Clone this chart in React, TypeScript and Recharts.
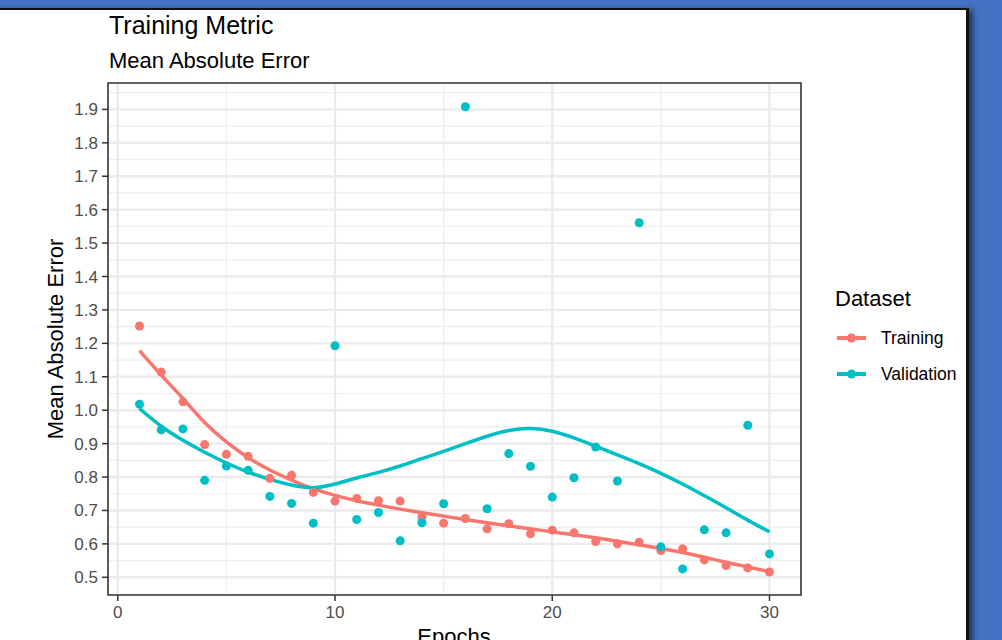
import React from "react";
import {
  CartesianGrid,
  ComposedChart,
  Line,
  ReferenceArea,
  Scatter,
  XAxis,
  YAxis,
} from "recharts";

const epochs = [
  1, 2, 3, 4, 5, 6, 7, 8, 9, 10, 11, 12, 13, 14, 15, 16, 17, 18, 19, 20, 21,
  22, 23, 24, 25, 26, 27, 28, 29, 30,
];

// observed MAE per epoch
const trainingMae = [
  1.252, 1.114, 1.025, 0.897, 0.868, 0.862, 0.796, 0.805, 0.754, 0.728, 0.736,
  0.729, 0.728, 0.681, 0.662, 0.676, 0.645, 0.66, 0.63, 0.641, 0.633, 0.607,
  0.6, 0.605, 0.58, 0.585, 0.552, 0.535, 0.528, 0.516,
];
const validationMae = [
  1.018, 0.941, 0.944, 0.79, 0.833, 0.82, 0.742, 0.721, 0.662, 1.193, 0.673,
  0.694, 0.609, 0.663, 0.72, 1.908, 0.705, 0.87, 0.832, 0.74, 0.798, 0.89,
  0.788, 1.561, 0.591, 0.525, 0.642, 0.633, 0.955, 0.57,
];

// smoothed (loess) curves
const trainingFit = [
  1.178, 1.105, 1.035, 0.963, 0.905, 0.858, 0.821, 0.791, 0.765, 0.745, 0.729,
  0.716, 0.704, 0.693, 0.683, 0.673, 0.663, 0.654, 0.645, 0.636, 0.627, 0.618,
  0.608, 0.597, 0.586, 0.574, 0.56, 0.545, 0.531, 0.517,
];
const validationFit = [
  1.005, 0.952, 0.91, 0.874, 0.842, 0.815, 0.793, 0.776, 0.768, 0.779, 0.797,
  0.814, 0.833, 0.855, 0.877, 0.9, 0.922, 0.939, 0.945, 0.937, 0.917, 0.892,
  0.866, 0.84, 0.811, 0.779, 0.744, 0.708, 0.671, 0.636,
];

const xTicks = [0, 10, 20, 30];
const xMinor = [5, 15, 25];
const yTicks = [0.5, 0.6, 0.7, 0.8, 0.9, 1.0, 1.1, 1.2, 1.3, 1.4, 1.5, 1.6, 1.7, 1.8, 1.9];
const yMinor = [0.45, 0.55, 0.65, 0.75, 0.85, 0.95, 1.05, 1.15, 1.25, 1.35, 1.45, 1.55, 1.65, 1.75, 1.85, 1.95];

const X_DOMAIN: [number, number] = [-0.45, 31.45];
const Y_DOMAIN: [number, number] = [0.447, 1.979];

const RED = "#F8766D";
const TEAL = "#00BFC4";
const FONT = '"Liberation Sans", Arial, sans-serif';

const series = [
  { name: "Training", color: RED },
  { name: "Validation", color: TEAL },
];

const rows = epochs.map((epoch, i) => ({
  epoch,
  training: trainingMae[i],
  validation: validationMae[i],
  trainingFit: trainingFit[i],
  validationFit: validationFit[i],
}));

const tickStyle = { fill: "#4D4D4D", fontSize: 17, fontFamily: FONT };

export default function App() {
  return (
    <div
      style={{
        position: "fixed",
        left: 0,
        top: 0,
        width: 1002,
        height: 640,
        overflow: "hidden",
        background: "#4472C4",
        fontFamily: FONT,
      }}
    >
      {/* white window with dark top/right edge */}
      <div
        style={{
          position: "absolute",
          left: -4,
          top: 8,
          width: 970,
          height: 640,
          background: "#fff",
          borderTop: "2px solid #111",
          borderRight: "3px solid #111",
          boxShadow: "4px 2px 6px rgba(0,0,0,0.55)",
        }}
      />

      <div style={{ position: "absolute", left: 0, top: 0 }}>
        <ComposedChart
          width={1002}
          height={640}
          data={rows}
          margin={{ top: 83, right: 201, bottom: 0, left: 0 }}
        >
          <CartesianGrid
            horizontalValues={yMinor}
            verticalValues={xMinor}
            stroke="#EEEEEE"
            strokeWidth={1.2}
            fill="none"
          />
          <CartesianGrid
            horizontalValues={yTicks}
            verticalValues={xTicks}
            stroke="#EBEBEB"
            strokeWidth={2.4}
            fill="none"
          />
          <XAxis
            dataKey="epoch"
            type="number"
            domain={X_DOMAIN}
            ticks={xTicks}
            allowDataOverflow
            height={45}
            axisLine={false}
            tickLine={{ stroke: "#333333", strokeWidth: 1.5 }}
            tickSize={6}
            tickMargin={5}
            tick={tickStyle}
          />
          <YAxis
            type="number"
            domain={Y_DOMAIN}
            ticks={yTicks}
            allowDataOverflow
            width={108}
            axisLine={false}
            tickLine={{ stroke: "#333333", strokeWidth: 1.5 }}
            tickSize={6}
            tickMargin={4}
            tick={tickStyle}
            tickFormatter={(v: number) => v.toFixed(1)}
          />
          <Scatter dataKey="training" fill={RED} isAnimationActive={false} />
          <Scatter dataKey="validation" fill={TEAL} isAnimationActive={false} />
          <Line
            dataKey="trainingFit"
            type="natural"
            stroke={RED}
            strokeWidth={3.5}
            dot={false}
            activeDot={false}
            isAnimationActive={false}
          />
          <Line
            dataKey="validationFit"
            type="natural"
            stroke={TEAL}
            strokeWidth={3.5}
            dot={false}
            activeDot={false}
            isAnimationActive={false}
          />
          <ReferenceArea
            x1={X_DOMAIN[0]}
            x2={X_DOMAIN[1]}
            y1={Y_DOMAIN[0]}
            y2={Y_DOMAIN[1]}
            fill="none"
            stroke="#333333"
            strokeWidth={1.6}
            ifOverflow="visible"
          />
        </ComposedChart>
      </div>

      {/* titles */}
      <div style={{ position: "absolute", left: 109, top: 10, fontSize: 25, color: "#000", lineHeight: "30px" }}>
        Training Metric
      </div>
      <div style={{ position: "absolute", left: 109, top: 47, fontSize: 22, color: "#000", lineHeight: "28px" }}>
        Mean Absolute Error
      </div>

      {/* axis titles */}
      <div
        style={{
          position: "absolute",
          left: 56,
          top: 339,
          fontSize: 22,
          color: "#000",
          whiteSpace: "nowrap",
          lineHeight: "22px",
          transform: "translate(-50%, -50%) rotate(-90deg)",
        }}
      >
        Mean Absolute Error
      </div>
      <div
        style={{
          position: "absolute",
          left: 454,
          top: 624,
          fontSize: 22,
          color: "#000",
          lineHeight: "26px",
          transform: "translateX(-50%)",
        }}
      >
        Epochs
      </div>

      {/* legend */}
      <div style={{ position: "absolute", left: 835, top: 286, fontSize: 22, color: "#000", lineHeight: "26px" }}>
        Dataset
      </div>
      {series.map((s, i) => (
        <div
          key={s.name}
          style={{
            position: "absolute",
            left: 835,
            top: 326 + i * 36,
            height: 24,
            display: "flex",
            alignItems: "center",
          }}
        >
          <svg width={32} height={24} style={{ display: "block" }}>
            <line x1={2} x2={31} y1={12} y2={12} stroke={s.color} strokeWidth={4} />
            <circle cx={16.5} cy={12} r={4.5} fill={s.color} />
          </svg>
          <span style={{ marginLeft: 14, fontSize: 17.5, color: "#000" }}>{s.name}</span>
        </div>
      ))}
    </div>
  );
}
